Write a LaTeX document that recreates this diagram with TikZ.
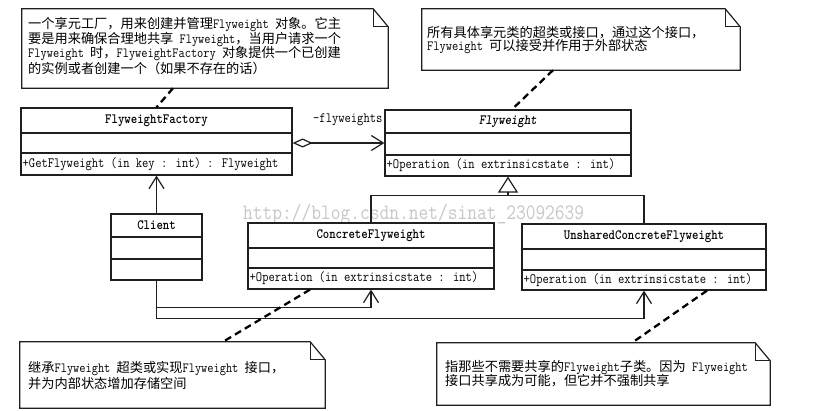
\documentclass[tikz,border=0pt]{standalone}
\usepackage{fontspec}
\setmainfont[FakeStretch=0.86]{Latin Modern Mono}
\newfontfamily\ttbold[Extension=.otf, ItalicFont=lmmonolt10-boldoblique, FakeStretch=0.86]{lmmonolt10-bold}
\newfontfamily\zhf{Noto Sans CJK SC}
\usetikzlibrary{arrows.meta}
\newcommand\zh[1]{{\zhf\fontsize{13.2}{15}\selectfont #1}}
\newcommand\drawnote[1]{%
  \draw[outl] (#1.south west) -- (#1.north west) -- ([xshift=-15pt]#1.north east)
     -- ([yshift=-18pt]#1.north east) -- (#1.south east) -- cycle;
  \draw[outl] ([xshift=-15pt]#1.north east) |- ([yshift=-18pt]#1.north east);}
\tikzset{
  outl/.style={draw=black!88, line width=1.2pt, line join=miter},
  classbox/.style={draw=black!88, line width=1.2pt, rectangle, inner sep=0pt},
  notebox/.style={rectangle, inner sep=0pt},
  cname/.style={font=\ttbold\fontsize{14.2}{16}\selectfont, inner sep=0pt, text=black},
  cop/.style={font=\fontsize{14.2}{16}\selectfont, inner sep=0pt, anchor=west, text=black},
  ntext/.style={font=\fontsize{14}{16}\selectfont, inner sep=0pt, anchor=west, text=black},
  conn/.style={draw=black!88, line width=1.2pt},
  dashline/.style={draw=black, line width=2.3pt, dash pattern=on 7pt off 4.5pt},
  opentip/.style={-{Straight Barb[length=12pt,width=15pt]}},
}
\begin{document}
\begin{tikzpicture}[x=1pt,y=-1pt]
\useasboundingbox[fill=white] (0,0) rectangle (817,411);

% watermark
\node[anchor=base west, inner sep=0pt, text=black!22, font=\fontsize{22}{24}\selectfont] (wm) at (243,220) {http://blog.csdn.net/sinat\_23092639};

% ---- classes ----
\node[classbox, minimum width=271pt, minimum height=67pt] (fac) at (156.5,141.5) {};
\draw[outl] (21,133) -- (292,133); \draw[outl] (21,153) -- (292,153);
\node[cname] (facn) at (156.5,120.5) {FlyweightFactory};
\node[cop] (faco) at (22.5,164) {+GetFlyweight (in key : int) : Flyweight};

\node[classbox, minimum width=246pt, minimum height=66pt] (fw) at (508,143) {};
\draw[outl] (385,133) -- (631,133); \draw[outl] (385,155) -- (631,155);
\node[cname, font=\ttbold\fontsize{14.2}{16}\selectfont\itshape] (fwn) at (508,121.5) {Flyweight};
\node[cop] (fwo) at (386.5,165.5) {+Operation (in extrinsicstate  : int)};

\node[classbox, minimum width=91pt, minimum height=66pt] (cli) at (156.5,247) {};
\draw[outl] (111,237) -- (202,237); \draw[outl] (111,259) -- (202,259);
\node[cname] (clin) at (156.5,225.5) {Client};

\node[classbox, minimum width=246pt, minimum height=66pt] (cf) at (371,256) {};
\draw[outl] (248,248) -- (494,248); \draw[outl] (248,268) -- (494,268);
\node[cname] (cfn) at (371,235.5) {ConcreteFlyweight};
\node[cop] (cfo) at (249.5,278.5) {+Operation (in extrinsicstate  : int)};

\node[classbox, minimum width=244pt, minimum height=66pt] (un) at (644,257) {};
\draw[outl] (522,249) -- (766,249); \draw[outl] (522,270) -- (766,270);
\node[cname] (unn) at (644,236.5) {UnsharedConcreteFlyweight};
\node[cop] (uno) at (523.5,280) {+Operation (in extrinsicstate  : int)};

% ---- connectors ----
\draw[conn, {Diamond[open,length=20pt,width=9pt]}-{Straight Barb[length=12pt,width=15pt]}] (fw.west -| fac.east) -- (fw.west);
\node[cop] (flab) at (313,120) {-flyweights};

\coordinate (j) at ([yshift=-19pt]fw.south);
\draw[conn] (cf.north) |- (un.north |- j) -- (un.north);
\draw[conn, -{Triangle[open,length=16pt,width=20pt]}] (j) -- (fw.south);

\draw[conn, opentip] (cli.north) -- (fac.south);
\draw[conn, opentip] (cli.south) |- ([yshift=-18pt]cf.south) -- (cf.south);
\draw[conn, opentip] (cli.south) |- ([yshift=-28pt]un.south) -- (un.south);

% ---- notes ----
\node[notebox, minimum width=366pt, minimum height=79pt] (n1) at (205,48.5) {};
\drawnote{n1}
\node[ntext] (n1a) at (28,25) {\zh{一个享元工厂，用来创建并管理}Flyweight \zh{对象。它主}};
\node[ntext] (n1b) at (28,40) {\zh{要是用来确保合理地共享} Flyweight\zh{，当用户请求一个}};
\node[ntext] (n1c) at (28,54) {Flyweight \zh{时，}FlyweightFactory \zh{对象提供一个已创建}};
\node[ntext] (n1d) at (28,68) {\zh{的实例或者创建一个（如果不存在的话）}};

\node[notebox, minimum width=318pt, minimum height=61pt] (n2) at (581,39.5) {};
\drawnote{n2}
\node[ntext] (n2a) at (427,33) {\zh{所有具体享元类的超类或接口，通过这个接口，}};
\node[ntext] (n2b) at (427,47) {Flyweight \zh{可以接受并作用于外部状态}};

\node[notebox, minimum width=305pt, minimum height=66pt] (n3) at (172.5,375) {};
\drawnote{n3}
\node[ntext] (n3a) at (28,369) {\zh{继承}Flyweight \zh{超类或实现}Flyweight \zh{接口，}};
\node[ntext] (n3b) at (28,383) {\zh{并为内部状态增加存储空间}};

\node[notebox, minimum width=333pt, minimum height=62pt] (n4) at (603.5,374) {};
\drawnote{n4}
\node[ntext] (n4a) at (445,368) {\zh{指那些不需要共享的}Flyweight\zh{子类。因为} Flyweight};
\node[ntext] (n4b) at (445,381) {\zh{接口共享成为可能，但它并不强制共享}};

% ---- note anchors ----
\draw[dashline] ([xshift=-32pt]n1.south) -- (fac.north);
\draw[dashline] ([xshift=-28pt]n2.south) -- ([xshift=4pt]fw.north);
\draw[dashline] ([xshift=-61pt]cf.south) -- ([xshift=50.5pt]n3.north);
\draw[dashline] ([xshift=63pt]un.south) -- ([xshift=28.5pt]n4.north);
\end{tikzpicture}
\end{document}
